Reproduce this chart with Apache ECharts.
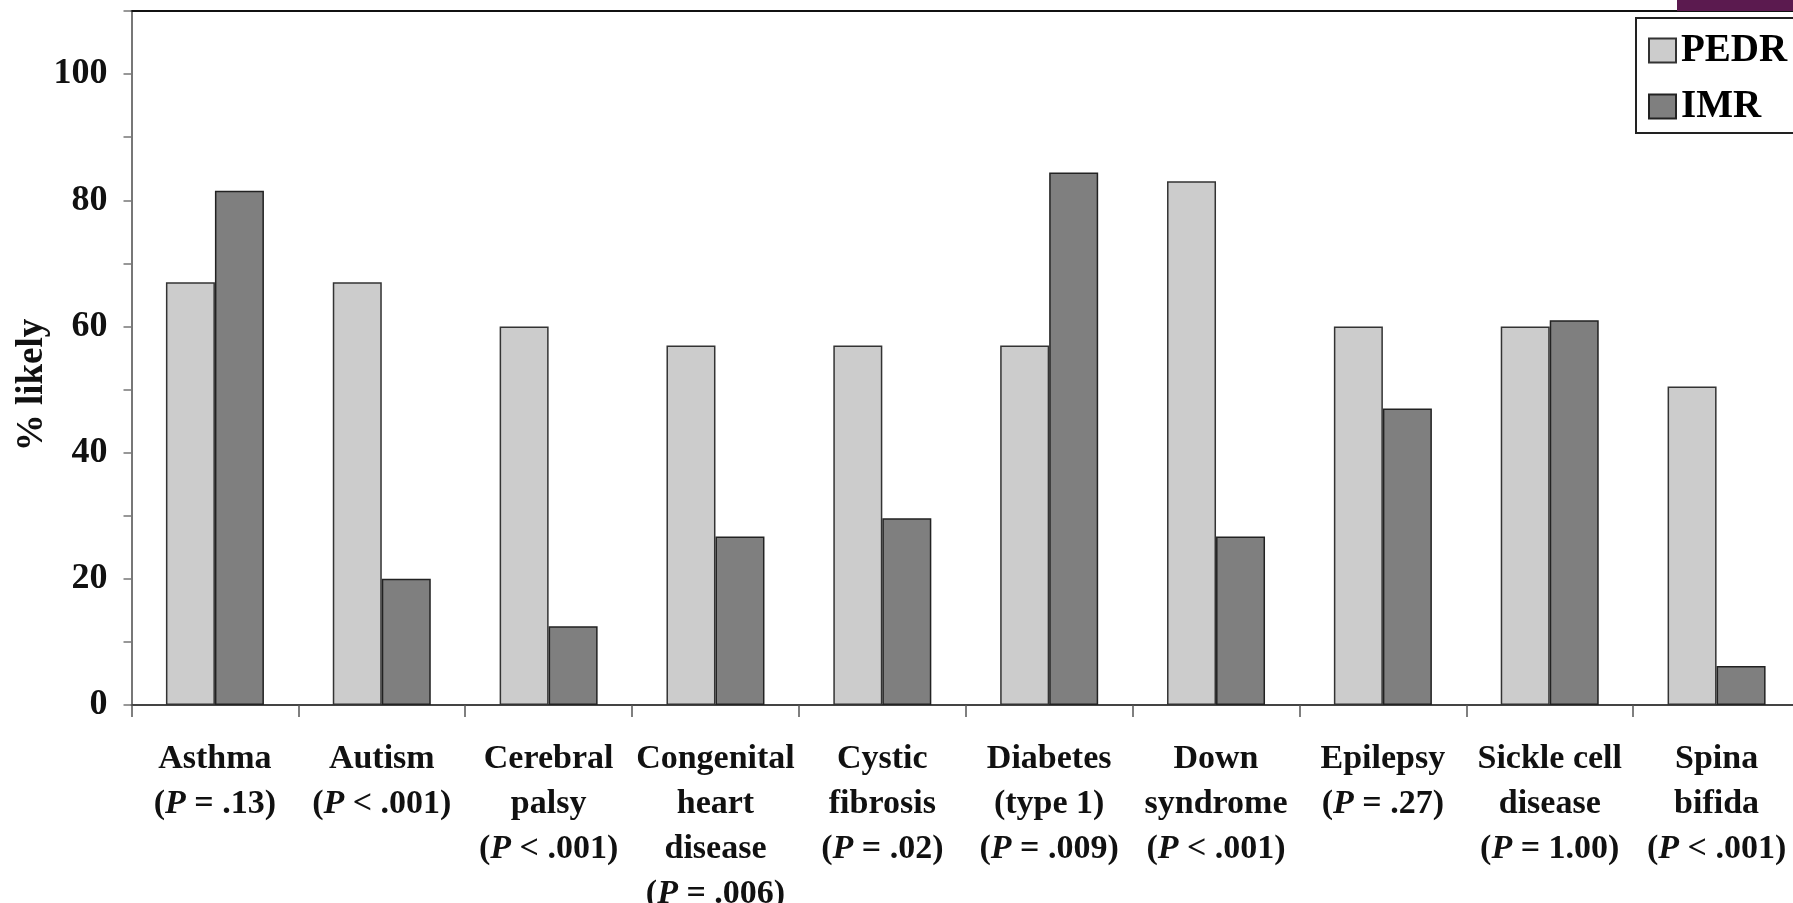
<!DOCTYPE html>
<html>
<head>
<meta charset="utf-8">
<script src="https://cdn.jsdelivr.net/npm/echarts@6/dist/echarts.min.js"></script>
<style>
html,body{margin:0;padding:0;background:#fff;}
#chart{width:1793px;height:903px;}
</style>
</head>
<body>
<div id="chart"></div>
<script>
// ---- data ----
const categoryLines = [
  ["Asthma"],
  ["Autism"],
  ["Cerebral", "palsy"],
  ["Congenital", "heart", "disease"],
  ["Cystic", "fibrosis"],
  ["Diabetes", "(type 1)"],
  ["Down", "syndrome"],
  ["Epilepsy"],
  ["Sickle cell", "disease"],
  ["Spina", "bifida"]
];
const pValues = ["= .13", "< .001", "< .001", "= .006", "= .02", "= .009", "< .001", "= .27", "= 1.00", "< .001"];
const pedr = [67, 67, 60, 57, 57, 57, 83, 60, 60, 50.5];
const imr  = [81.5, 20, 12.5, 26.7, 29.6, 84.4, 26.7, 47, 61, 6.2];
const seriesNames = ["PEDR", "IMR"];
const yTickLabels = [0, 20, 40, 60, 80, 100];

// ---- chart ----
const FONT = '"Liberation Serif", "Times New Roman", serif';
const categories = categoryLines.map(l => l.join(" "));
const labelText = {};
categories.forEach((c, i) => {
  labelText[c] = categoryLines[i].join("\n") + "\n({i|P} " + pValues[i] + ")";
});

const chart = echarts.init(document.getElementById('chart'), null, {renderer: 'canvas'});
chart.setOption({
  backgroundColor: '#ffffff',
  animation: false,
  grid: {left: 131.5, right: -7, top: 11, bottom: 198, containLabel: false, outerBoundsMode: 'none'},
  legend: {
    data: seriesNames,
    orient: 'vertical',
    left: 1636, top: 18,
    itemWidth: 27, itemHeight: 24,
    itemGap: 17,
    padding: [13, 14, 7, 12],
    borderColor: '#222', borderWidth: 2,
    backgroundColor: '#fff',
    textStyle: {fontFamily: FONT, fontWeight: 'bold', fontSize: 39, color: '#000', lineHeight: 38},
    icon: 'rect'
  },
  xAxis: [{
    type: 'category',
    data: categories,
    position: 'bottom',
    axisLine: {show: true, lineStyle: {color: '#444', width: 2}},
    axisTick: {show: true, length: 12, lineStyle: {color: '#555', width: 1.5}},
    axisLabel: {
      interval: 0,
      margin: 32,
      fontFamily: FONT, fontWeight: 'bold', fontSize: 34, color: '#111', lineHeight: 45,
      align: 'center',
      formatter: v => labelText[v],
      rich: {
        i: {fontFamily: FONT, fontWeight: 'bold', fontStyle: 'italic', fontSize: 34, color: '#111', lineHeight: 45}
      }
    }
  }, {
    type: 'category',
    data: categories,
    position: 'top',
    axisLine: {show: true, lineStyle: {color: '#111', width: 2}},
    axisTick: {show: false},
    axisLabel: {show: false}
  }],
  yAxis: {
    type: 'value',
    min: 0, max: 110, interval: 10,
    name: '% likely',
    nameLocation: 'middle',
    nameGap: 81,
    nameMoveOverlap: false,
    nameRotate: 90,
    nameTextStyle: {fontFamily: FONT, fontWeight: 'bold', fontSize: 37, color: '#111', padding: [0, 54, 0, 0]},
    axisLine: {show: true, lineStyle: {color: '#777', width: 2}},
    axisTick: {show: true, length: 8, lineStyle: {color: '#777', width: 1.5}},
    splitLine: {show: false},
    axisLabel: {
      margin: 24,
      fontFamily: FONT, fontWeight: 'bold', fontSize: 36, color: '#111',
      formatter: v => (yTickLabels.indexOf(v) >= 0 ? String(v) : '')
    }
  },
  series: [{
    name: seriesNames[0],
    type: 'bar',
    data: pedr,
    barWidth: 49,
    barGap: '0%',
    itemStyle: {color: '#cccccc', borderColor: '#333', borderWidth: 1.5}
  }, {
    name: seriesNames[1],
    type: 'bar',
    data: imr,
    barWidth: 49,
    barGap: '0%',
    itemStyle: {color: '#7f7f7f', borderColor: '#222', borderWidth: 1.5}
  }],
  graphic: [{
    type: 'rect',
    right: 0, top: 0,
    shape: {width: 116, height: 11},
    style: {fill: '#5b1a4f'},
    z: 100
  }]
});
</script>
</body>
</html>
